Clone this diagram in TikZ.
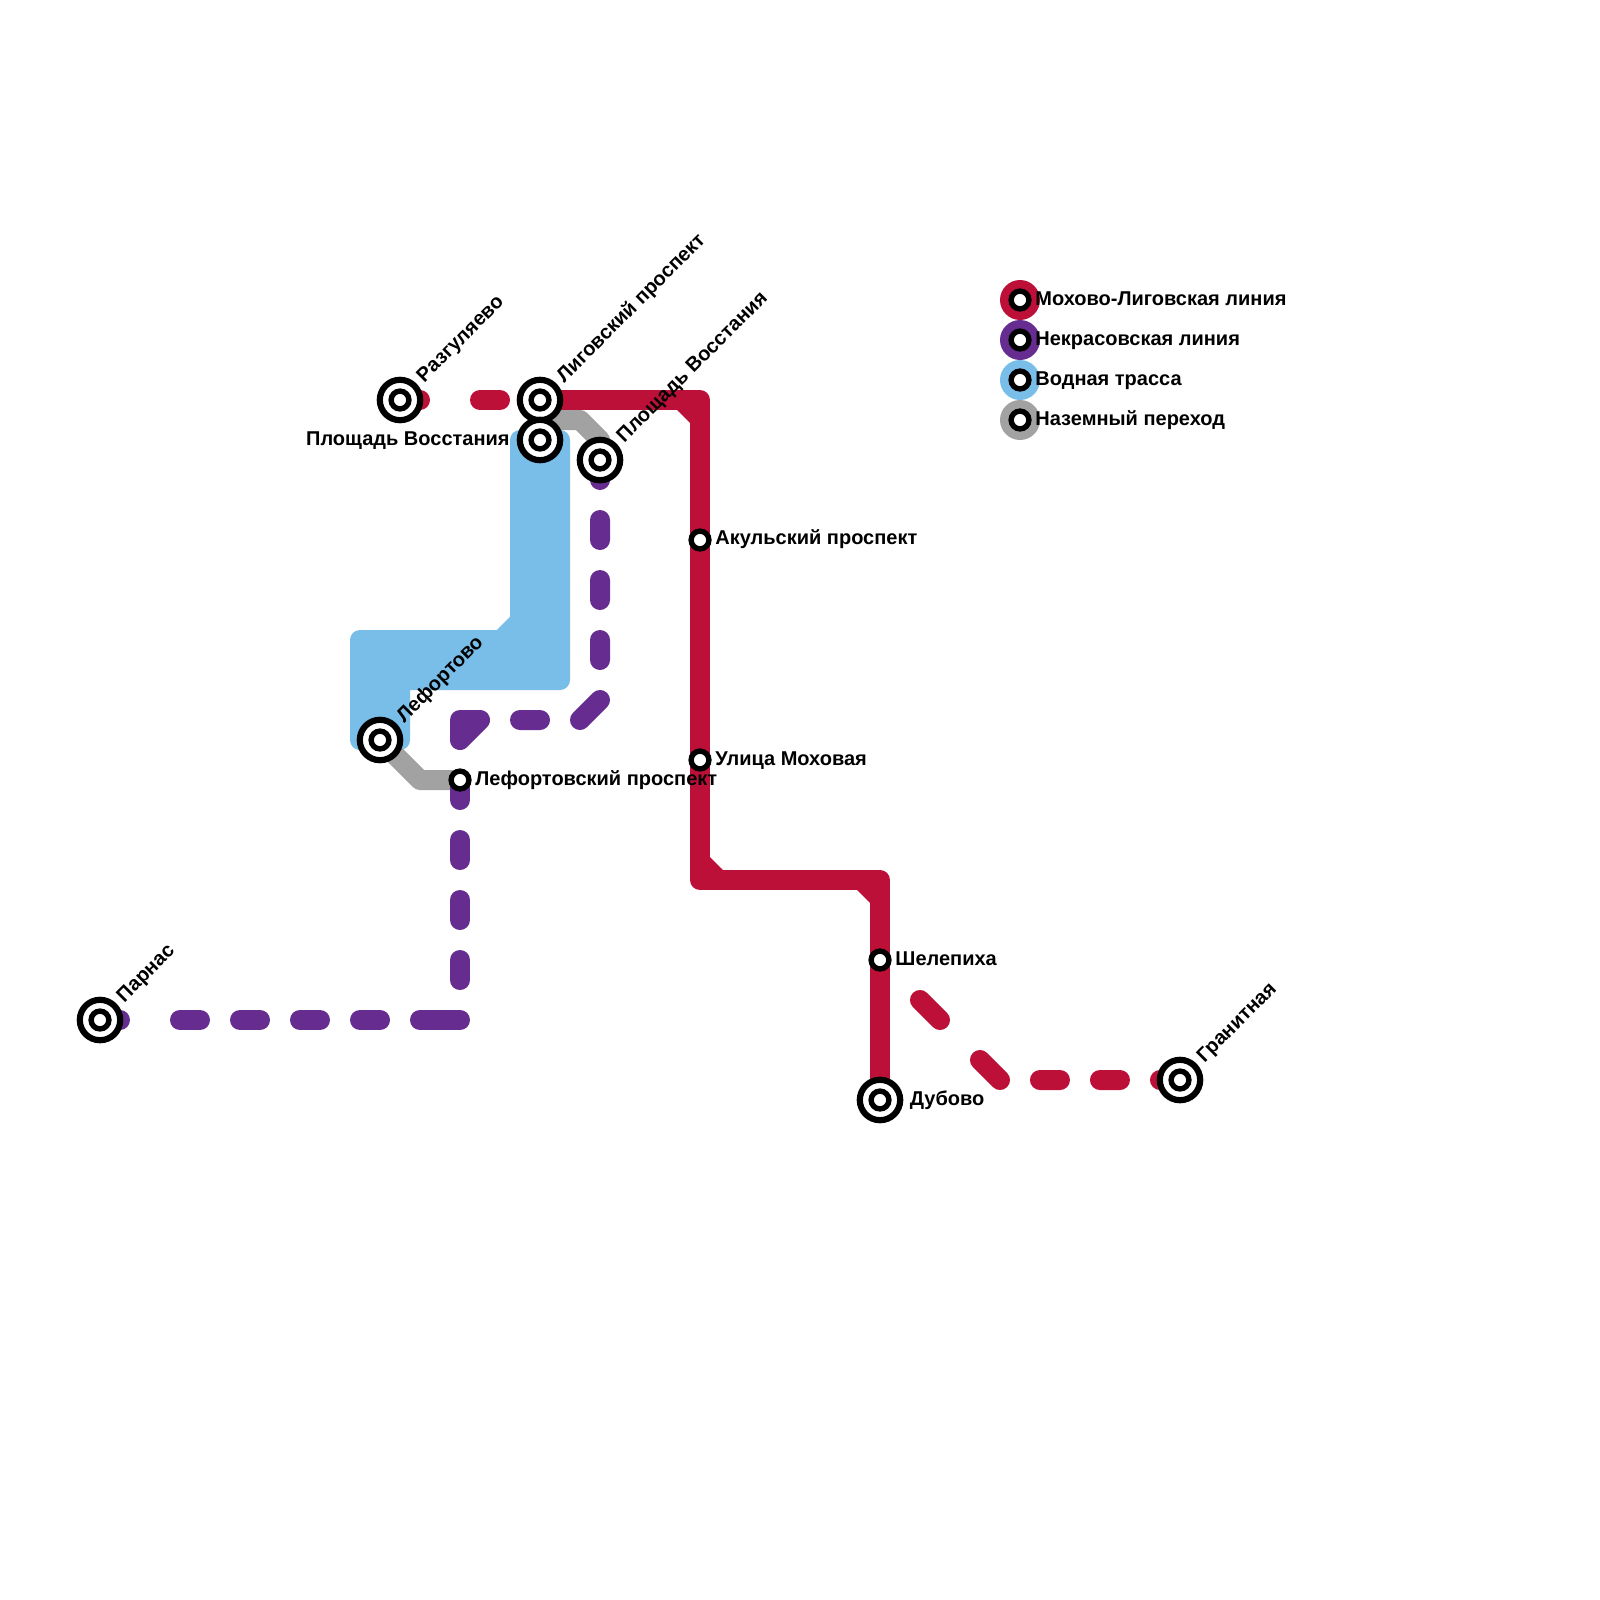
\documentclass[tikz,border=0pt]{standalone}
\usepackage{fontspec}
\setmainfont{Liberation Sans}
\definecolor{lred}{HTML}{BD1038}
\definecolor{lpurple}{HTML}{662C90}
\definecolor{lblue}{HTML}{79BDE9}
\definecolor{lgray}{HTML}{A2A2A2}
\tikzset{
  x=0.5pt,y=-0.5pt,
  lineseg/.style={line width=10pt,line cap=round,line join=round},
  chamfer/.style={draw=none,fill=lred},
  bigring/.style={circle,draw=black,fill=white,line width=3.1pt,minimum size=20.2pt,inner sep=0pt},
  smallring/.style={circle,draw=black,fill=white,line width=2.7pt,minimum size=8.9pt,inner sep=0pt},
  lbl/.style={font=\fontsize{10pt}{12pt}\selectfont\bfseries,inner sep=0pt,text=black},
  lblr/.style={lbl,anchor=base west,rotate=45},
  lble/.style={lbl,anchor=base west},
  lgdisc/.style={circle,minimum size=20pt,inner sep=0pt,draw=none},
}
\newcommand{\bigst}[2]{\node[bigring] (#1o) at (#2) {};\node[smallring] (#1) at (#2) {};}
\begin{document}
\begin{tikzpicture}
\useasboundingbox (0,0) rectangle (1600,1600);
\fill[white] (0,0) rectangle (1600,1600);
% named positions
\coordinate (razgC) at (400,400);
\coordinate (ligC) at (540,400);
\coordinate (plC) at (540,440);
\coordinate (pl2C) at (600,460);
\coordinate (akC) at (700,540);
\coordinate (mohC) at (700,760);
\coordinate (lefC) at (380,740);
\coordinate (lefpC) at (460,780);
\coordinate (parC) at (100,1020);
\coordinate (shelC) at (880,960);
\coordinate (dubC) at (880,1100);
\coordinate (granC) at (1180,1080);
\coordinate (r1) at (700,400);
\coordinate (r2) at (700,880);
\coordinate (r3) at (880,880);
\coordinate (r4) at (1000,1080);
\coordinate (p1) at (460,1020);
\coordinate (p2) at (600,700);
\coordinate (p3) at (580,720);
\coordinate (p4) at (480,720);
\coordinate (p5) at (460,720);
\coordinate (p6) at (460,740);
\coordinate (g1) at (580,420);
\coordinate (g2) at (600,440);
\coordinate (g0) at (540,420);
\coordinate (g3) at (420,780);
% water route
\filldraw[lblue,line width=10pt,line join=round] (360,640) -- (501,640) -- (520,621) -- (520,440) -- (560,440) -- (560,680) -- (400,680) -- (400,740) -- (360,740) -- cycle;
% surface transfers
\draw[lgray,lineseg] (g0) -- (g1) -- (g2) -- (pl2C);
\draw[lgray,lineseg] (lefC) -- (g3) -- (lefpC);
% Nekrasovskaya line
\draw[lpurple,lineseg,dash pattern=on 10pt off 30pt on 10pt off 20pt on 10pt off 20pt on 10pt off 20pt on 10pt off 20pt on 20pt off 20pt on 10pt off 20pt on 10pt off 20pt on 10pt off 20pt on 10pt off 100pt] (parC) -- (p1) -- (lefpC);
\draw[lpurple,lineseg,dash pattern=on 10pt off 20pt on 10pt off 20pt on 10pt off 20pt on 10pt off 20pt on 14.14pt off 20pt on 10pt off 100pt] (pl2C) -- (p2) -- (p3) -- (p4);
\filldraw[lpurple,lineseg] (p4) -- (p5) -- (p6) -- cycle;
% Mokhovo-Ligovskaya line
\draw[lred,lineseg,dash pattern=on 10pt off 30pt on 10pt off 100pt] (razgC) -- (ligC);
\draw[lred,lineseg] (ligC) -- (r1) -- (r2) -- (r3) -- (dubC);
\fill[chamfer] (677,410) -- (690,410) -- (690,423) -- cycle;
\fill[chamfer] (710,857) -- (723,870) -- (710,870) -- cycle;
\fill[chamfer] (857,890) -- (870,890) -- (870,903) -- cycle;
\draw[lred,lineseg,dash pattern=on 0pt off 28.28pt on 14.14pt off 28.28pt on 14.14pt off 20pt on 10pt off 20pt on 10pt off 20pt on 10pt off 100pt] (shelC) -- (r4) -- (granC);
% stations
\bigst{razg}{razgC}
\bigst{lig}{ligC}
\bigst{pl}{plC}
\bigst{plb}{pl2C}
\bigst{lef}{lefC}
\bigst{par}{parC}
\bigst{dub}{dubC}
\bigst{gran}{granC}
\node[smallring] (ak) at (akC) {};
\node[smallring] (moh) at (mohC) {};
\node[smallring] (lefp) at (lefpC) {};
\node[smallring] (shel) at (shelC) {};
% labels
\node[lblr] (trazg) at (424.2,383.3) {Разгуляево};
\node[lblr] (tlig) at (564.2,383.3) {Лиговский проспект};
\node[lbl,anchor=base east] (tpl) at (510,445) {Площадь Восстания};
\node[lblr] (tplb) at (624.2,443.3) {Площадь Восстания};
\node[lble] (tak) at (715,544.5) {Акульский проспект};
\node[lble] (tmoh) at (715,765) {Улица Моховая};
\node[lble] (tlefp) at (475,785) {Лефортовский проспект};
\node[lblr] (tlef) at (404.2,723.3) {Лефортово};
\node[lblr] (tpar) at (124.2,1003.3) {Парнас};
\node[lble] (tshel) at (895,965) {Шелепиха};
\node[lble] (tdub) at (909.5,1105) {Дубово};
\node[lblr] (tgran) at (1204.2,1063.3) {Гранитная};
% legend
\node[lgdisc,fill=lred] (lg1) at (1020,300) {};
\node[lgdisc,fill=lpurple] (lg2) at (1020,340) {};
\node[lgdisc,fill=lblue] (lg3) at (1020,380) {};
\node[lgdisc,fill=lgray] (lg4) at (1020,420) {};
\node[smallring] (lr1) at (lg1) {};
\node[smallring] (lr2) at (lg2) {};
\node[smallring] (lr3) at (lg3) {};
\node[smallring] (lr4) at (lg4) {};
\node[lble] (tl1) at (1035,305.3) {Мохово-Лиговская линия};
\node[lble] (tl2) at (1035,345.3) {Некрасовская линия};
\node[lble] (tl3) at (1035,385.3) {Водная трасса};
\node[lble] (tl4) at (1035,425.3) {Наземный переход};
\end{tikzpicture}
\end{document}
